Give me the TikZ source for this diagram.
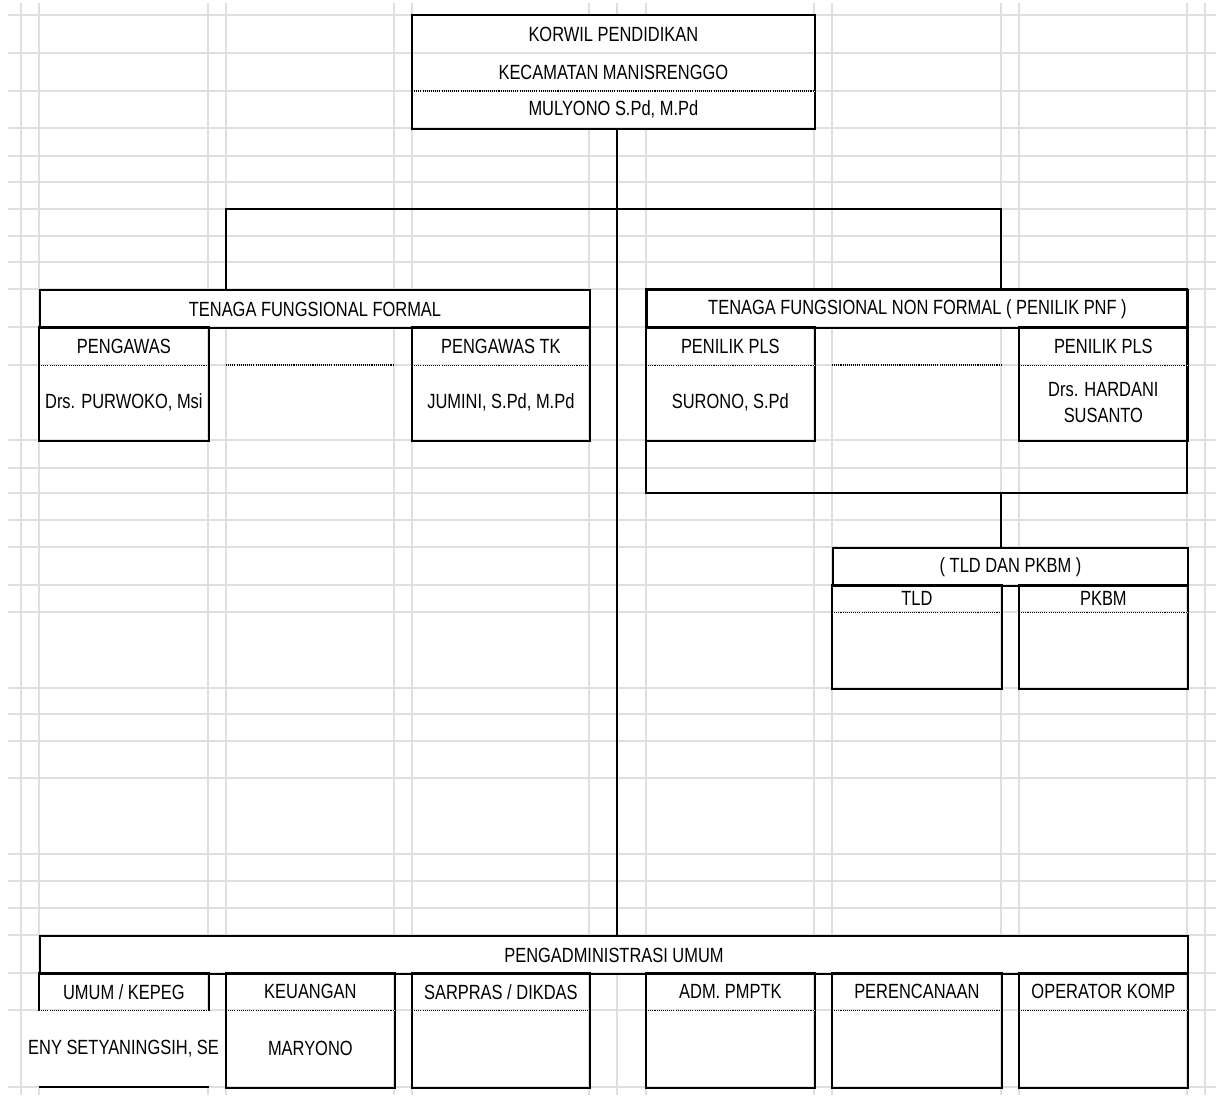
\documentclass[tikz,border=0pt]{standalone}
\usepackage{fontspec}
\setmainfont{Liberation Sans}[FakeStretch=0.8]
\tikzset{
  cell/.style 2 args={minimum width=#1*0.02cm, minimum height=#2*0.02cm, anchor=north west, inner sep=0pt, align=center},
  bline/.style={line width=1.1pt},
  dotline/.style={line width=0.7pt, dash pattern=on 0.6pt off 0.6pt, preaction={draw=white, solid}},
  sheet/.style={line width=0.8pt, gray!25}
}
\begin{document}
\begin{tikzpicture}[x=0.02cm, y=-0.02cm, every node/.style={font=\fontsize{11.7}{14.7}\selectfont}]
\useasboundingbox (0,0) rectangle (1222,1095);
% sheet grid, merged cells hide the column lines
\foreach \x in {21,39,208,226,394,412,589,617,646,814,832,1001,1019,1187,1205}
  \draw[sheet] (\x,3) -- (\x,1095);
\foreach \a/\b/\c/\d in {412/15/814/128, 39/289/589/327, 646/289/1187/327, 832/547/1187/585, 39/935/1187/973, 31/1010/219/1087}
  \fill[white] (\a,\b) rectangle (\c,\d);
\foreach \y in {15,53,91,128,156,182,209,236,262,289,327,365,440,468,493,520,547,585,612,688,714,741,778,854,881,908,935,973,1010,1087}
  \draw[sheet] (8,\y) -- (1216,\y);

% korwil
\node[cell={402}{38}] (korwil1) at (412,15) {KORWIL PENDIDIKAN};
\node[cell={402}{38}] (korwil2) at (412,53) {KECAMATAN MANISRENGGO};
\node[cell={402}{37}] (korwil3) at (412,91) {MULYONO S.Pd, M.Pd};
\draw[bline] (korwil1.north west) rectangle (korwil3.south east);
\draw[dotline] (korwil3.north west) -- (korwil3.north east);

% fungsional formal
\node[cell={550}{38}, draw, bline] (tff) at (39,289) {TENAGA FUNGSIONAL FORMAL};
\foreach \n/\x/\w/\t/\v in {pgw/39/169/PENGAWAS/{Drs. PURWOKO, Msi}, pgwtk/412/177/{PENGAWAS TK}/{JUMINI, S.Pd, M.Pd}}
 {\node[cell={\w}{38}] (\n) at (\x,327) {\t};
  \node[cell={\w}{75}] (\n2) at (\x,365) {\v};
  \draw[bline] (\n.north west) rectangle (\n2.south east);
  \draw[dotline] (\n.south west) -- (\n.south east);
 };
\draw[dotline] (226,365) -- (394,365);

% fungsional non formal
\node[cell={541}{38}, draw, bline] (tfnf) at (646,289) {TENAGA FUNGSIONAL NON FORMAL ( PENILIK PNF )};
\coordinate (tfnfend) at (1187,493);
\draw[bline] (tfnf.north west) rectangle (tfnfend);
\foreach \n/\x/\w/\v in {plsa/646/168/{SURONO, S.Pd}, plsb/1019/168/{Drs. HARDANI\\SUSANTO}}
 {\node[cell={\w}{38}] (\n) at (\x,327) {PENILIK PLS};
  \node[cell={\w}{75}] (\n2) at (\x,365) {\v};
  \draw[bline] (\n.north west) rectangle (\n2.south east);
  \draw[dotline] (\n.south west) -- (\n.south east);
 };
\draw[dotline] (832,365) -- (1001,365);

% tld dan pkbm
\node[cell={355}{38}, draw, bline] (tldpkbm) at (832,547) {( TLD DAN PKBM )};
\foreach \n/\x/\w/\t in {tld/832/169/TLD, pkbm/1019/168/PKBM}
 {\node[cell={\w}{27}] (\n) at (\x,585) {\t};
  \node[cell={\w}{76}] (\n2) at (\x,612) {};
  \draw[bline] (\n.north west) rectangle (\n2.south east);
  \draw[dotline] (\n.south west) -- (\n.south east);
 };

% pengadministrasi
\node[cell={1148}{38}, draw, bline] (pa) at (39,935) {PENGADMINISTRASI UMUM};
\node[cell={169}{37}] (umum) at (39,973) {UMUM / KEPEG};
\node[cell={169}{77}, anchor=center] (umum2) at (123.5,1048.5) {ENY SETYANINGSIH, SE};
\draw[bline] (umum.south west) -- (umum.north west) -- (umum.north east) -- (umum.south east);
\draw[dotline] (umum.south west) -- (umum.south east);
\draw[bline] (umum.west |- umum2.south) -- (umum.east |- umum2.south);
\foreach \n/\x/\w/\t/\v in {keu/226/168/KEUANGAN/MARYONO, sar/412/177/{SARPRAS / DIKDAS}/{}, adm/646/168/{ADM. PMPTK}/{}, ren/832/169/PERENCANAAN/{}, ope/1019/168/{OPERATOR KOMP}/{}}
 {\node[cell={\w}{37}] (\n) at (\x,973) {\t};
  \node[cell={\w}{77}] (\n2) at (\x,1010) {\v};
  \draw[bline] (\n.north west) rectangle (\n2.south east);
  \draw[dotline] (\n.south west) -- (\n.south east);
 };

% connectors
\coordinate (trunk) at (617,209);
\coordinate (bl) at (226,209);
\coordinate (br) at (1001,209);
\draw[bline] (trunk |- korwil3.south) -- (trunk |- pa.north);
\draw[bline] (bl |- tff.north) -- (bl) -- (br) -- (br |- tfnf.north);
\draw[bline] (br |- tfnfend) -- (br |- tldpkbm.north);
\end{tikzpicture}
\end{document}
